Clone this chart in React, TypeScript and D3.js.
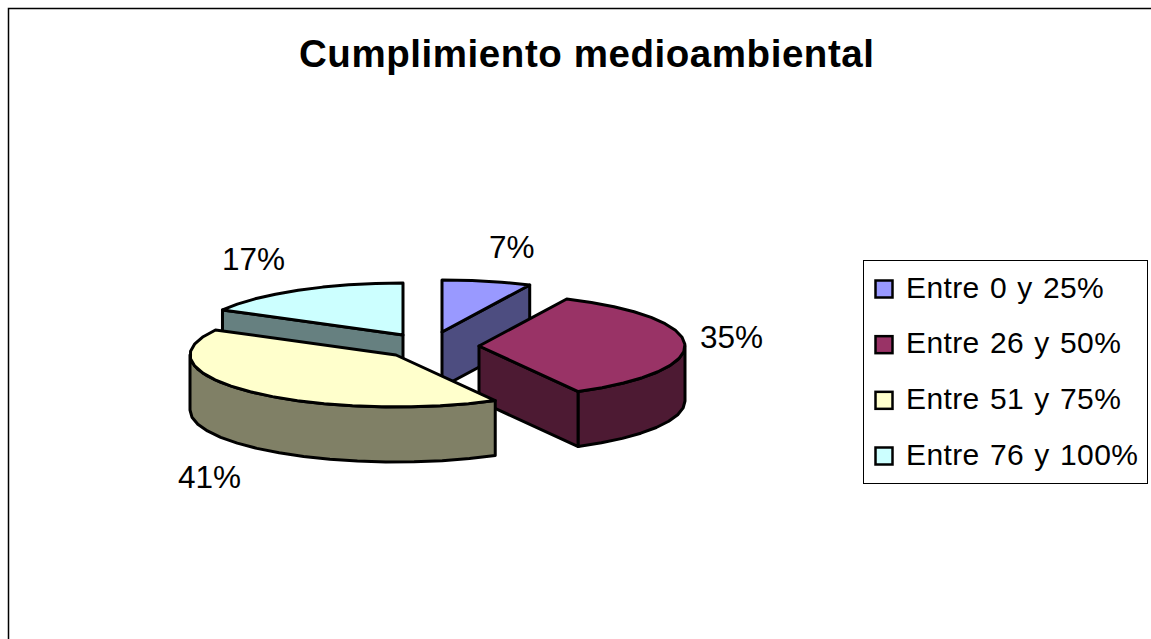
import React from "react";
import * as d3 from "d3";

const categories = ["Entre 0 y 25%", "Entre 26 y 50%", "Entre 51 y 75%", "Entre 76 y 100%"];
const values = [7, 35, 41, 17];
const pctLabels = ["7%", "35%", "41%", "17%"];
const topColors = ["#9999FF", "#993366", "#FFFFCC", "#CCFFFF"];
const sideColors = ["#4D4D80", "#4D1A33", "#808066", "#668080"];
const titleText = "Cumplimiento medioambiental";

const W = 1151, H = 639;
const rx = 206, ry = 52, depth = 55;
const apexX = [442, 479, 396, 403];
const apexY = [332, 346, 355, 335];
const labelPos: [number, number][] = [[489, 258], [700, 348], [178, 488], [222, 270]];
const paintOrder = [0, 3, 1, 2];

const pie = d3.pie<number>().sort(null).value((d) => d);
const arcs = pie(values);
const line = d3.line<[number, number]>();

function rim(i: number, a0: number, a1: number, dy = 0): [number, number][] {
  const n = Math.max(1, Math.round(Math.abs(a1 - a0) / 0.14));
  return d3.range(n + 1).map((k) => {
    const a = a0 + ((a1 - a0) * k) / n;
    return [apexX[i] + rx * Math.sin(a), apexY[i] - ry * Math.cos(a) + dy] as [number, number];
  });
}

function Slice({ i }: { i: number }) {
  const { startAngle: s, endAngle: e } = arcs[i];
  const ax = apexX[i], ay = apexY[i];
  const walls: [number, number][][] = [];
  // radial cut faces that look toward the viewer
  if (i === 0 || i === 1) {
    const [p] = rim(i, e, e);
    walls.push([[ax, ay], p, [p[0], p[1] + depth], [ax, ay + depth]]);
  }
  if (i === 3) {
    const [p] = rim(i, s, s);
    walls.push([[ax, ay], p, [p[0], p[1] + depth], [ax, ay + depth]]);
  }
  // outer curved wall, front half only
  const lo = Math.max(s, Math.PI / 2), hi = Math.min(e, (3 * Math.PI) / 2);
  if (hi > lo) {
    const up = rim(i, lo, hi);
    const down = rim(i, hi, lo, depth);
    walls.push([...up, ...down]);
  }
  const top: [number, number][] = [[ax, ay], ...rim(i, s, e)];
  return (
    <g stroke="#000" strokeWidth={3} strokeLinejoin="round">
      {walls.map((w, k) => (
        <path key={k} d={line(w) + "Z"} fill={sideColors[i]} />
      ))}
      <path d={line(top) + "Z"} fill={topColors[i]} />
    </g>
  );
}

export default function App() {
  const font = "'Liberation Sans', Arial, sans-serif";
  const rowY = d3.scaleLinear().domain([0, 3]).range([289, 456]);
  return (
    <svg width={W} height={H} style={{ position: "absolute", left: 0, top: 0, background: "#fff" }} fontFamily={font}>
      <path d={`M8.5 ${H}V8.5H${W}`} fill="none" stroke="#000" strokeWidth={1.5} />
      <text x={299} y={67} fontSize={38.5} fontWeight="bold" textLength={575} lengthAdjust="spacing">{titleText}</text>
      {paintOrder.map((i) => <Slice key={i} i={i} />)}
      {pctLabels.map((t, i) => (
        <text key={t} x={labelPos[i][0]} y={labelPos[i][1]} fontSize={31.5}>{t}</text>
      ))}
      <rect x={863.5} y={260.5} width={284} height={223} fill="#fff" stroke="#000" strokeWidth={1} />
      {categories.map((c, i) => (
        <g key={c}>
          <rect x={875.5} y={rowY(i) - 8.5} width={17} height={17} fill={topColors[i]} stroke="#000" strokeWidth={2.5} />
          <text x={906} y={rowY(i) + 8.5} fontSize={30} letterSpacing={0.4} wordSpacing={1.5}>{c}</text>
        </g>
      ))}
    </svg>
  );
}
